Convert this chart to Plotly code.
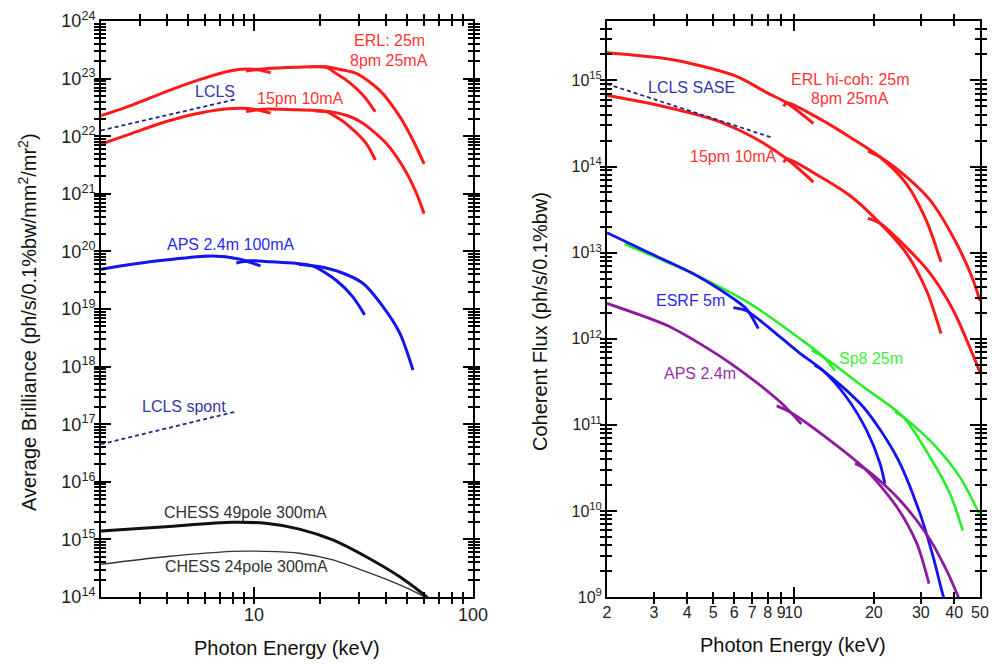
import plotly.graph_objects as go
import math

# ---------------- LEFT PANEL: Average brilliance ----------------
erl8_a_E = [2.0, 2.77, 3.94, 5.6, 7.95, 10.0, 11.9]
erl8_a_B = [2.27e22, 3.47e22, 5.9e22, 9.5e22, 1.38e23, 1.45e23, 1.26e23]
erl8_b_E = [9.2, 11.0, 15.5, 21.3, 23.7, 26.3, 31.4, 35.8]
erl8_b_B = [1.36e23, 1.47e23, 1.57e23, 1.57e23, 1.23e23, 9.5e22, 5.2e22, 2.66e22]
erl8_c_E = [18.0, 21.3, 24.5, 29.3, 37.4, 46.3, 53.2, 59.8]
erl8_c_B = [1.6e23, 1.6e23, 1.45e23, 1.23e23, 6.3e22, 2.19e22, 8.5e21, 3.3e21]

erl15_a_E = [2.0, 2.77, 3.94, 5.6, 7.95, 10.0, 11.9]
erl15_a_B = [7.3e21, 1.12e22, 1.78e22, 2.51e22, 3.02e22, 2.95e22, 2.51e22]
erl15_b_E = [9.2, 11.0, 15.5, 21.3, 24.5, 27.3, 32.5, 35.8]
erl15_b_B = [2.69e22, 2.95e22, 2.88e22, 2.69e22, 2.0e22, 1.46e22, 7.5e21, 3.86e21]
erl15_c_E = [19.0, 22.0, 27.0, 31.4, 40.2, 47.9, 55.2, 59.8]
erl15_c_B = [2.75e22, 2.69e22, 2.24e22, 1.67e22, 7.5e21, 2.95e21, 1.02e21, 4.5e20]

aps_a_E = [2.0, 2.77, 3.94, 6.44, 8.53, 10.7]
aps_a_B = [4.9e19, 5.97e19, 7.08e19, 8.3e19, 7.4e19, 5.6e19]
aps_b_E = [8.3, 9.5, 12.0, 15.5, 18.5, 23.7, 28.2, 32.0]
aps_b_B = [6.3e19, 6.9e19, 6.6e19, 6.2e19, 5.6e19, 3.16e19, 1.64e19, 7.9e18]
aps_c_E = [16.0, 20.0, 25.0, 31.4, 38.8, 46.3, 53.2]
aps_c_B = [6.0e19, 5.4e19, 4.3e19, 2.8e19, 1.1e19, 3.8e18, 8.7e17]

lcls_E = [2.0, 8.3]
lcls_B = [1.26e22, 4.4e22]
lcls_spont_E = [2.0, 8.3]
lcls_spont_B = [4.5e16, 1.66e17]

chess49_E = [2.0, 3.94, 7.95, 11.3, 16.1, 22.9, 32.5, 46.3, 61.3, 64.0]
chess49_B = [1.4e15, 1.66e15, 1.98e15, 1.9e15, 1.51e15, 9.8e14, 5.0e14, 2.24e14, 1.0e14, 8.5e13]
chess24_E = [2.0, 3.94, 7.95, 11.3, 16.1, 22.9, 32.5, 46.3, 60.0, 63.0]
chess24_B = [3.7e14, 5.0e14, 6.2e14, 6.2e14, 5.75e14, 4.4e14, 2.75e14, 1.62e14, 1.0e14, 8.8e13]

# ---------------- RIGHT PANEL: Coherent flux ----------------
cerl8_a_E = [2.0, 3.35, 4.47, 5.95, 6.58, 7.94, 9.42, 11.87]
cerl8_a_F = [2.09e15, 1.78e15, 1.48e15, 1.15e15, 1.0e15, 7.2e14, 5.5e14, 3.16e14]
cerl8_b_E = [9.2, 9.42, 12.6, 16.3, 21.1, 26.5, 31.5, 35.7]
cerl8_b_F = [5.0e14, 5.5e14, 3.55e14, 2.19e14, 1.29e14, 6.3e13, 2.34e13, 7.8e12]
cerl8_c_E = [19.0, 21.1, 26.5, 32.5, 39.7, 46.6, 50.0]
cerl8_c_F = [1.51e14, 1.29e14, 7.6e13, 4.07e13, 1.51e13, 5.25e12, 2.75e12]

cerl15_a_E = [2.0, 2.9, 4.47, 5.33, 7.06, 9.42, 11.87]
cerl15_a_F = [6.7e14, 5.4e14, 3.9e14, 3.28e14, 2.19e14, 1.23e14, 6.6e13]
cerl15_b_E = [9.2, 9.42, 12.6, 16.3, 21.1, 26.5, 31.5, 35.7]
cerl15_b_F = [1.12e14, 1.23e14, 7.6e13, 4.57e13, 2.19e13, 9.8e12, 3.63e12, 1.15e12]
cerl15_c_E = [19.0, 21.1, 26.5, 32.5, 39.7, 45.8, 50.0]
cerl15_c_F = [2.5e13, 2.19e13, 1.15e13, 5.75e12, 2.14e12, 7.9e11, 4.07e11]

lcls_sase_E = [2.0, 8.4]
lcls_sase_F = [9.1e14, 2.14e14]

esrf_a_E = [2.0, 2.9, 4.33, 5.95, 6.68, 7.38]
esrf_a_F = [1.7e13, 9.8e12, 5.43e12, 2.92e12, 2.2e12, 1.31e12]
esrf_b_E = [5.95, 6.68, 8.9, 10.58, 12.9, 15.8, 18.8, 21.1, 22.0]
esrf_b_F = [2.29e12, 2.1e12, 1.05e12, 6.76e11, 4.27e11, 2.09e11, 8.6e10, 3.55e10, 2.07e10]
esrf_c_E = [12.0, 12.9, 18.3, 24.4, 29.8, 33.4, 36.5, 37.5]
esrf_c_F = [4.9e11, 4.27e11, 1.6e11, 4.2e10, 9.3e9, 2.9e9, 1.0e9, 8.0e8]

sp8_a_E = [2.33, 4.33, 6.87, 10.58, 12.9, 14.3]
sp8_a_F = [1.26e13, 5.43e12, 2.55e12, 1.0e12, 6.2e11, 4.27e11]
sp8_b_E = [11.7, 12.9, 18.3, 25.8, 32.5, 38.6, 43.1]
sp8_b_F = [7.3e11, 6.2e11, 2.75e11, 1.23e11, 4.2e10, 1.58e10, 5.9e9]
sp8_c_E = [24.0, 25.8, 33.4, 42.1, 50.0]
sp8_c_F = [1.41e11, 1.23e11, 6.0e10, 2.45e10, 8.9e9]

aps24_a_E = [2.0, 3.35, 4.47, 5.95, 8.9, 10.7]
aps24_a_F = [2.57e12, 1.43e12, 8.7e11, 4.9e11, 1.85e11, 1.02e11]
aps24_b_E = [8.65, 9.7, 13.7, 18.8, 24.4, 29.0, 32.2]
aps24_b_F = [1.66e11, 1.41e11, 6.6e10, 2.95e10, 1.11e10, 4.17e9, 1.43e9]
aps24_c_E = [17.0, 18.8, 24.4, 31.5, 37.5, 41.5, 42.5]
aps24_c_F = [3.55e10, 3.0e10, 1.45e10, 5.4e9, 2.04e9, 1.0e9, 8.5e8]

# tick labels
left_x_major = [10, 100]
left_x_labels = ["10", "100"]
left_y_exps = list(range(14, 25))
right_y_exps = list(range(9, 16))
right_x_ticks = [2, 3, 4, 5, 6, 7, 8, 9, 10, 20, 30, 40, 50]
right_x_labels = ["2", "3", "4", "5", "6", "7", "8", "9", "10", "20", "30", "40", "50"]

RED = "#ff1a1a"
BLUE = "#1414f0"
GREEN = "#28ee28"
PURPLE = "#8c1c9c"
NAVY = "#23238e"
FONT = "Liberation Sans, Arial, sans-serif"

fig = go.Figure()


def add(E, V, color, width, xa, ya, dash=None, shape="spline"):
    fig.add_trace(go.Scatter(
        x=E, y=V, mode="lines", xaxis=xa, yaxis=ya, showlegend=False,
        hoverinfo="skip",
        line=dict(color=color, width=width, dash=dash, shape=shape, smoothing=0.8),
    ))


# left panel (x/y; some traces sit on the overlay axes x3 / y3, which share range & domain)
for E, B in [(erl8_a_E, erl8_a_B), (erl8_b_E, erl8_b_B), (erl8_c_E, erl8_c_B),
             (erl15_a_E, erl15_a_B), (erl15_b_E, erl15_b_B), (erl15_c_E, erl15_c_B)]:
    add(E, B, RED, 3, "x", "y")
for E, B in [(aps_a_E, aps_a_B), (aps_b_E, aps_b_B), (aps_c_E, aps_c_B)]:
    add(E, B, BLUE, 3, "x", "y")
add(lcls_E, lcls_B, NAVY, 1.8, "x", "y3", dash="4px,3px", shape="linear")
add(lcls_spont_E, lcls_spont_B, NAVY, 1.8, "x3", "y", dash="4px,3px", shape="linear")
add(chess49_E, chess49_B, "#111111", 3, "x", "y")
add(chess24_E, chess24_B, "#333333", 1.3, "x", "y")

# right panel (x2/y2; overlay axes x4 / y4)
for E, F in [(cerl8_a_E, cerl8_a_F), (cerl8_b_E, cerl8_b_F), (cerl8_c_E, cerl8_c_F),
             (cerl15_a_E, cerl15_a_F), (cerl15_b_E, cerl15_b_F), (cerl15_c_E, cerl15_c_F)]:
    add(E, F, RED, 3, "x2", "y2")
add(lcls_sase_E, lcls_sase_F, NAVY, 1.8, "x4", "y2", dash="4px,3px", shape="linear")
add(sp8_a_E, sp8_a_F, GREEN, 2.6, "x2", "y2")
add(sp8_b_E, sp8_b_F, GREEN, 2.6, "x2", "y2")
add(sp8_c_E, sp8_c_F, GREEN, 2.6, "x2", "y4")
for E, F in [(esrf_a_E, esrf_a_F), (esrf_b_E, esrf_b_F), (esrf_c_E, esrf_c_F)]:
    add(E, F, BLUE, 2.8, "x2", "y2")
for E, F in [(aps24_a_E, aps24_a_F), (aps24_b_E, aps24_b_F), (aps24_c_E, aps24_c_F)]:
    add(E, F, PURPLE, 2.8, "x2", "y2")

W, H = 992, 664


def px(x):
    return x / W


def py(y):
    return 1 - y / H


def decade_minors(lo, hi):
    return [float(m) * 10.0 ** e for e in range(lo, hi) for m in range(2, 10)]


def decades(exps):
    return [10.0 ** e for e in exps]


def merged(major_vals, major_text, minor_vals):
    # all tick positions on one axis; only the major ones carry a label
    pairs = [(float(v), t) for v, t in zip(major_vals, major_text)] + [(v, "") for v in minor_vals]
    pairs.sort(key=lambda p: p[0])
    return [p[0] for p in pairs], [p[1] for p in pairs]


axis_common = dict(
    type="log", showline=True, linewidth=2, linecolor="black", mirror="allticks",
    ticks="inside", tickcolor="black", tickwidth=1.5, showgrid=False, zeroline=False,
    automargin=False, tickangle=0, tickmode="array", ticklen=5,
    tickfont=dict(family=FONT, size=18, color="#222222"),
)
overlay_common = dict(axis_common, showticklabels=False, ticklen=10, tickwidth=1.5)
RFONT = dict(family=FONT, size=16, color="#222222")

LX = [px(101), px(473)]
RX = [px(607), px(980)]
YD = [py(597), py(21)]
LXR = [math.log10(2), 2]
RXR = [math.log10(2), math.log10(50)]
LYR = [14, 24]
RYR = [9, 15.69]

lx_vals, lx_text = merged(left_x_major, left_x_labels,
                          [v for v in decade_minors(0, 2) if v >= 2])
ly_vals, ly_text = merged(decades(left_y_exps), ["10<sup>%d</sup>" % e for e in left_y_exps],
                          decade_minors(14, 24))
ry_vals, ry_text = merged(decades(right_y_exps), ["10<sup>%d</sup>" % e for e in right_y_exps],
                          decade_minors(9, 16))

fig.update_layout(
    width=W, height=H, margin=dict(l=0, r=0, t=0, b=0, autoexpand=False),
    paper_bgcolor="white", plot_bgcolor="white",
    xaxis=dict(axis_common, domain=LX, range=LXR, anchor="y",
               tickvals=lx_vals, ticktext=lx_text),
    yaxis=dict(axis_common, domain=YD, range=LYR, anchor="x",
               tickvals=ly_vals, ticktext=ly_text),
    xaxis3=dict(overlay_common, domain=LX, range=LXR, anchor="y", overlaying="x",
                tickvals=[float(v) for v in left_x_major]),
    yaxis3=dict(overlay_common, domain=YD, range=LYR, anchor="x", overlaying="y",
                tickvals=decades(left_y_exps)),
    xaxis2=dict(axis_common, domain=RX, range=RXR, anchor="y2",
                tickvals=[float(v) for v in right_x_ticks], ticktext=right_x_labels,
                tickfont=RFONT),
    yaxis2=dict(axis_common, domain=YD, range=RYR, anchor="x2",
                tickvals=ry_vals, ticktext=ry_text, tickfont=RFONT),
    xaxis4=dict(overlay_common, domain=RX, range=RXR, anchor="y2", overlaying="x2",
                tickvals=[10.0]),
    yaxis4=dict(overlay_common, domain=YD, range=RYR, anchor="x2", overlaying="y2",
                tickvals=decades(right_y_exps)),
)


def label(text, x, y, color, size=16, angle=0):
    fig.add_annotation(text=text, x=px(x), y=py(y), xref="paper", yref="paper",
                       showarrow=False, xanchor="center", yanchor="middle", textangle=angle,
                       font=dict(family=FONT, size=size, color=color))


LRED = "#ff3535"
# left panel labels
label("ERL: 25m", 389, 41, LRED)
label("8pm 25mA", 389, 60, LRED)
label("15pm 10mA", 300, 98, LRED)
label("LCLS", 215, 92, "#3535a8")
label("APS 2.4m 100mA", 231, 244, "#2a2af0")
label("LCLS spont", 184, 406, "#3535a8")
label("CHESS 49pole 300mA", 245, 512, "#333333")
label("CHESS 24pole 300mA", 246, 566, "#333333")

# right panel labels
label("ERL hi-coh: 25m", 850, 79, LRED)
label("8pm 25mA", 850, 99, LRED)
label("LCLS SASE", 691, 88, "#3535a8")
label("15pm 10mA", 733, 156, LRED)
label("ESRF 5m", 690, 300, "#2a2af0")
label("Sp8 25m", 871, 358, "#3cf03c")
label("APS 2.4m", 700, 373, "#9a30aa")

# axis titles
label("Average Brilliance (ph/s/0.1%bw/mm<sup>2</sup>/mr<sup>2</sup>)", 27, 322, "#111111", size=20, angle=-90)
label("Coherent Flux (ph/s/0.1%bw)", 540, 322, "#111111", size=20, angle=-90)
label("Photon Energy (keV)", 287, 648, "#111111", size=20)
label("Photon Energy (keV)", 793, 645, "#111111", size=20)

fig.write_html("out.html", config={"displayModeBar": False},
               post_script="document.body.style.margin='0px';")
